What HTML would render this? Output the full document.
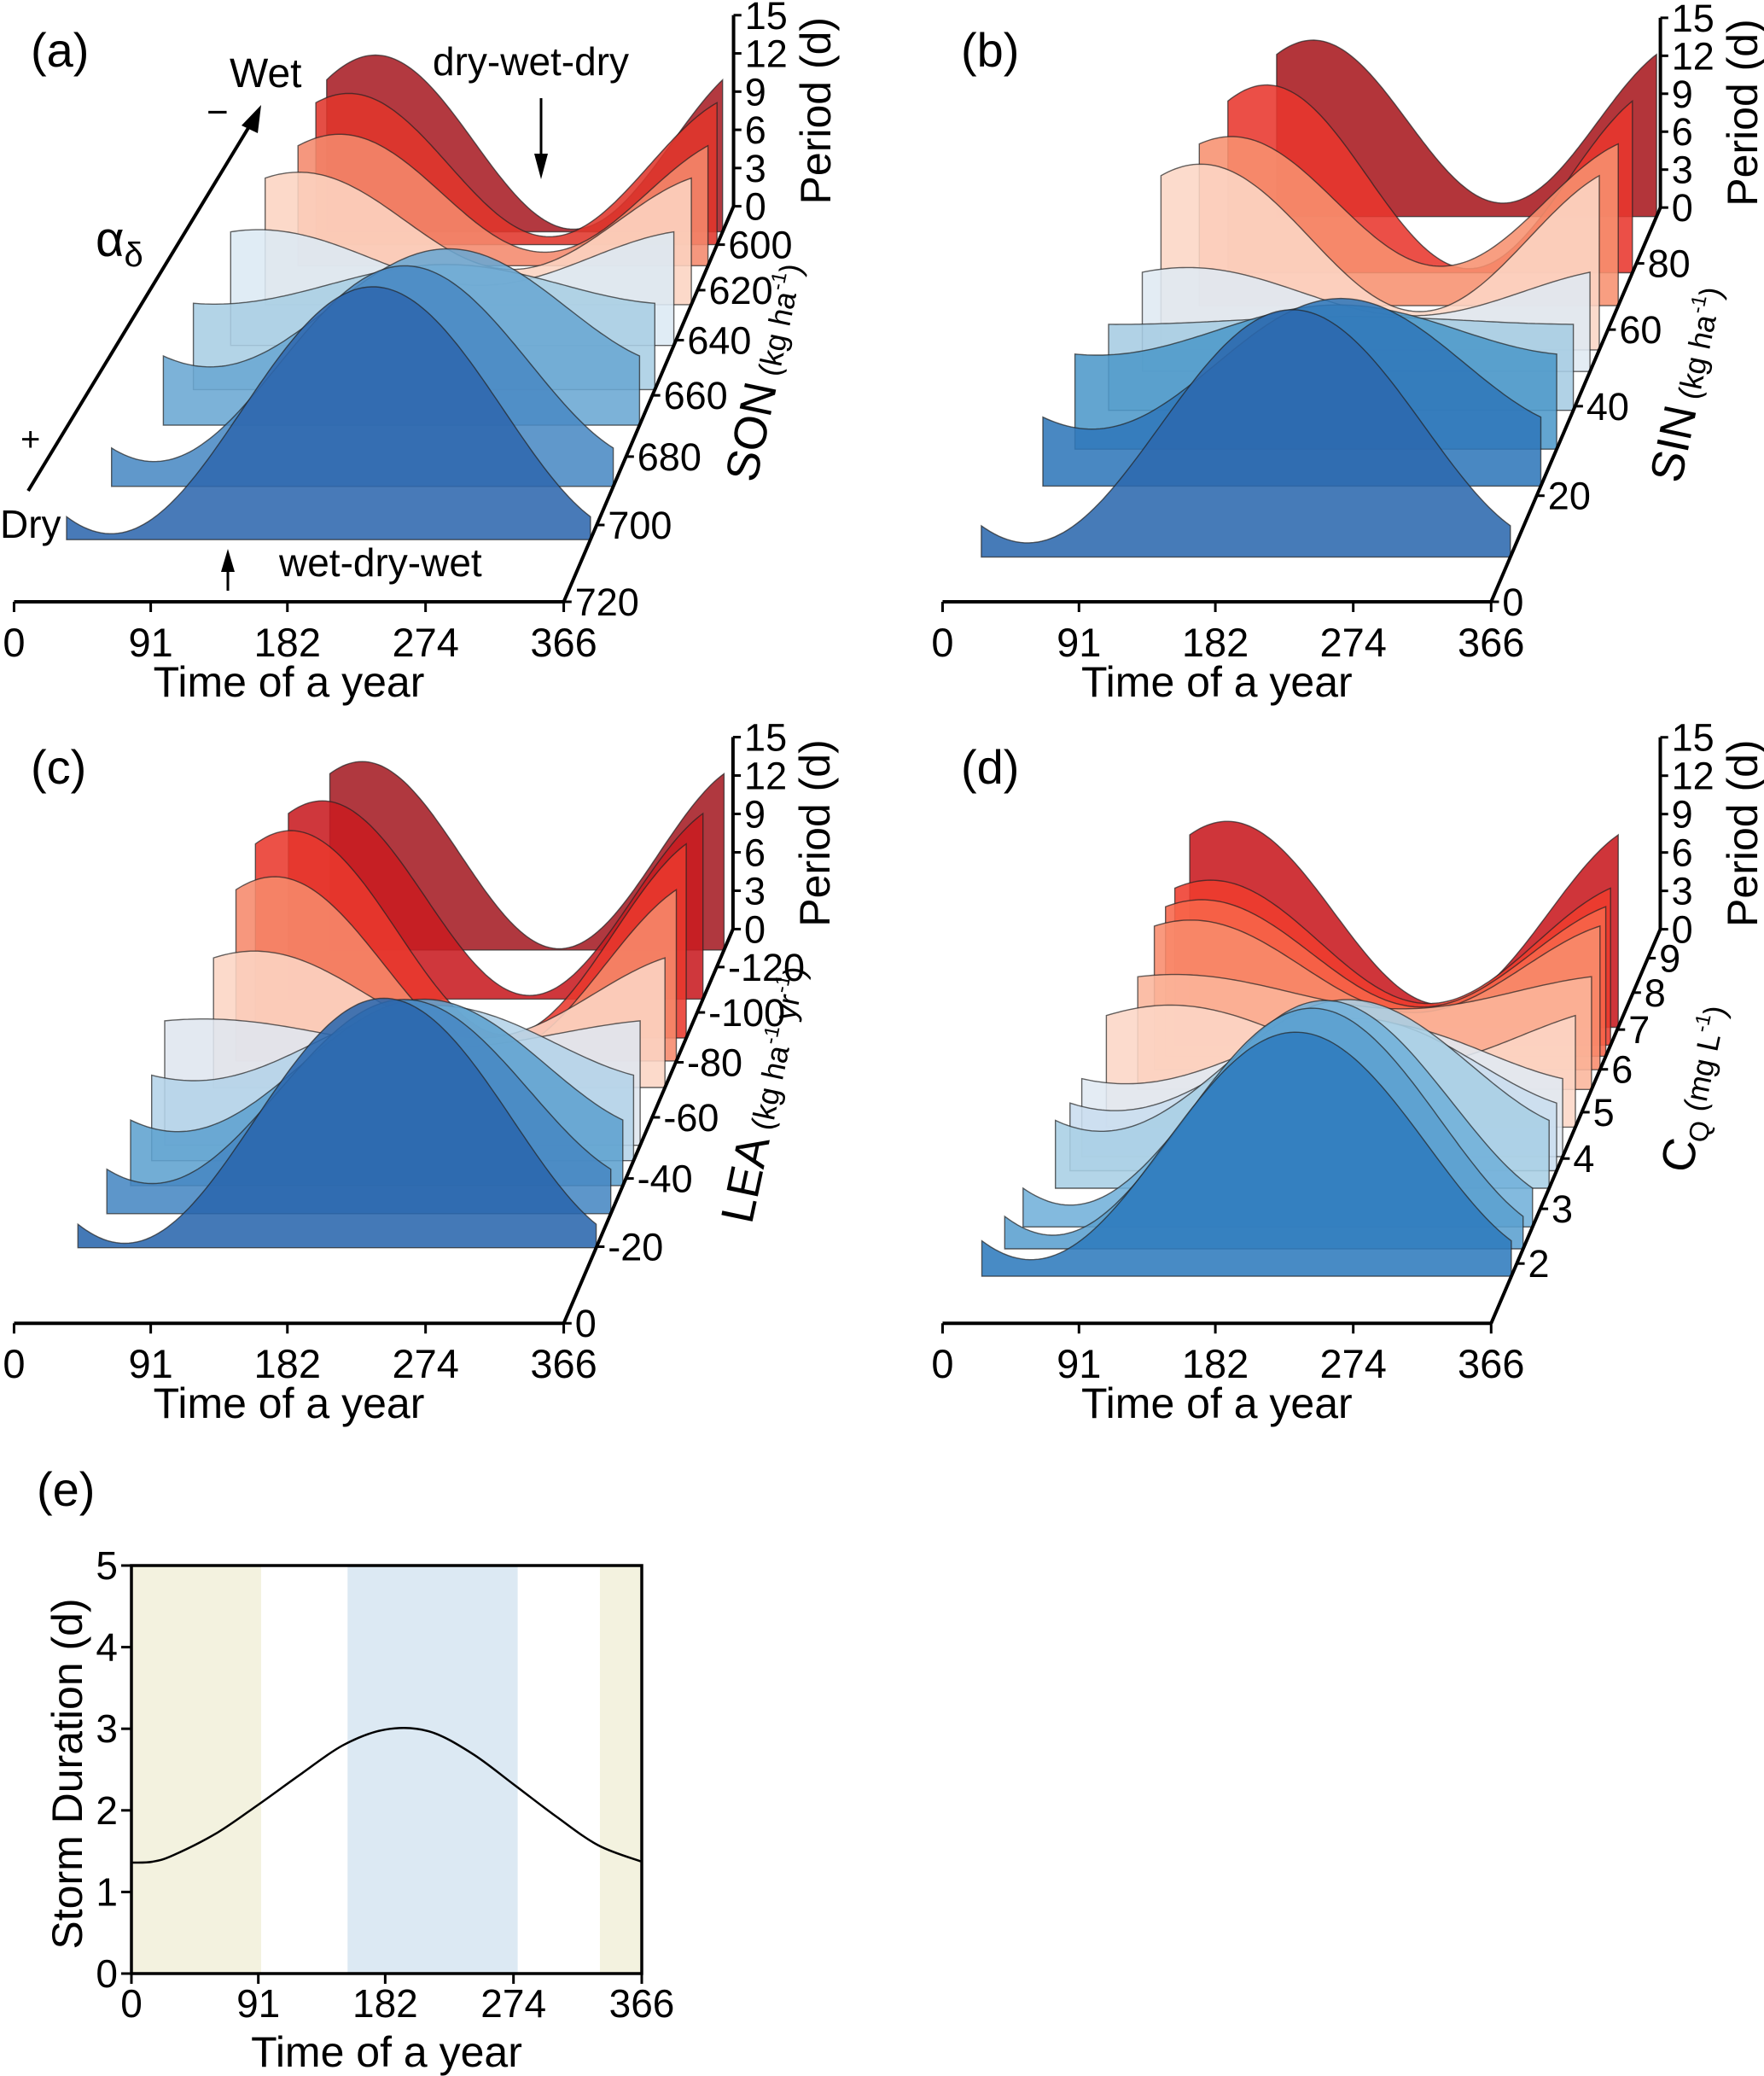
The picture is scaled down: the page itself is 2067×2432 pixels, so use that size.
<!DOCTYPE html>
<html><head><meta charset="utf-8">
<style>
html,body{margin:0;padding:0;background:#fff;}
svg{display:block;}
text{font-family:"Liberation Sans",Arial,sans-serif;fill:#000;}
</style></head>
<body>
<svg id="fig" xmlns="http://www.w3.org/2000/svg" width="2067" height="2432" viewBox="0 0 2067 2432">
  <rect x="0" y="0" width="2067" height="2432" fill="#fff"/>
  <g id="pa"></g>
  <g id="pb"></g>
  <g id="pc"></g>
  <g id="pd"></g>
  <g id="pe"></g>
  <g>
    <text x="36" y="78" font-size="56">(a)</text>
    <text x="269" y="102" font-size="48">Wet</text>
    <text x="242" y="146" font-size="44">−</text>
    <line x1="33" y1="575" x2="300" y2="135" stroke="#000" stroke-width="4"/>
    <polygon points="306,123 283,147 302,156" fill="#000"/>
    <text x="112" y="300" font-size="58" font-family="Liberation Serif, serif">α<tspan font-size="40" dy="12">δ</tspan></text>
    <text x="24" y="528" font-size="40" font-family="Liberation Serif, serif">+</text>
    <text x="0" y="630" font-size="46">Dry</text>
    <text x="507" y="88" font-size="46">dry-wet-dry</text>
    <line x1="634" y1="115" x2="634" y2="190" stroke="#000" stroke-width="3"/>
    <polygon points="634,210 626,180 642,180" fill="#000"/>
    <text x="327" y="675" font-size="46">wet-dry-wet</text>
    <line x1="267" y1="692" x2="267" y2="662" stroke="#000" stroke-width="3"/>
    <polygon points="267,643 259,670 275,670" fill="#000"/>
  </g>
  <text x="1126" y="78" font-size="56">(b)</text>
  <text x="36" y="918" font-size="56">(c)</text>
  <text x="1126" y="918" font-size="56">(d)</text>
  <text x="43" y="1764" font-size="56">(e)</text>
</svg>
<script>
// ---------- data: panel (a) SON ----------
const aDepth   = [704, 689, 670, 658, 642, 626, 609.5, 600, 594];
const aMax     = [14.6, 13.3, 11.2, 8.2, 7.9, 9.4, 9.7, 11.4, 13.5];
const aMin     = [0.34, 1.5, 3.7, 5.6, 4.1, 2.5, 1.0, 0.6, 0.2];
const aPeakDay = [214, 214, 219, 200, 23, 29, 37, 30, 45];
const aTicks   = [720, 700, 680, 660, 640, 620, 600];
// ---------- data: panel (b) SIN ----------
const bDepth   = [8, 22, 30, 39, 48.7, 54.4, 66.9, 77, 96];
const bMax     = [13.9, 11.2, 8.9, 6.0, 6.9, 12.6, 12, 13.8, 13.8];
const bMin     = [0.8, 3.4, 5.8, 5.5, 3.7, 2.6, 2.8, 0.3, 1.05];
const bPeakDay = [215, 219, 200, 190, 37, 33, 28, 35, 35];
const bTicks   = [0, 20, 40, 60, 80];
// ---------- data: panel (c) LEA ----------
const cDepth   = [-19.7, -29.4, -37.8, -45.6, -50.6, -70.6, -80.5, -89.5, -105.7, -128];
const cMax     = [14.5, 12.8, 11.4, 9.7, 8.0, 9.1, 12.6, 14.5, 14.4, 14.4];
const cMin     = [0.26, 1.8, 3.3, 5.0, 6.2, 3.3, 0.5, 0.2, 0.26, 0.1];
const cPeakDay = [216, 216, 218, 215, 30, 33, 32, 30, 30, 30];
const cTicks   = [0, -20, -40, -60, -80, -100, -120];
// ---------- data: panel (d) CQ ----------
const dDepth   = [1.78, 2.26, 2.66, 3.4, 3.75, 4.04, 4.67, 5.52, 5.99, 6.32, 6.6, 7.06];
const dMax     = [14, 14.1, 13.5, 11.6, 9.5, 8.5, 7.9, 7.7, 10.2, 10.8, 11.5, 14.6];
const dMin     = [0.95, 0.8, 1.3, 3.5, 3.75, 4.6, 4.0, 5.4, 3.9, 3.4, 2.9, 1.6];
const dPeakDay = [217, 217, 217, 217, 217, 217, 50, 30, 30, 30, 30, 32];
const dTicks   = [2, 3, 4, 5, 6, 7, 8, 9];
// ---------- shared axis labels ----------
const timeTicks   = [0, 91, 182, 274, 366];
const periodTicks = [0, 3, 6, 9, 12, 15];
// ---------- panel (e) ----------
const eDays     = [0, 15, 30, 61, 91, 122, 152, 182, 213, 244, 274, 305, 335, 366];
const eDuration = [1.36, 1.37, 1.45, 1.72, 2.07, 2.45, 2.8, 2.99, 2.97, 2.7, 2.32, 1.92, 1.57, 1.37];
const eYTicks   = [0, 1, 2, 3, 4, 5];
const eBandStart = [0, 155, 336];
const eBandEnd   = [93, 277, 366];
const eBandKind  = ['dry', 'wet', 'dry'];

const aColors = ['#2f68ae','#4a8ac4','#6aa7d3','#a9cee4','#dce9f4','#fcd4c2','#f4896c','#e0352b','#a81e25'];
const bColors = ['#2c69ae','#3078b9','#4d98ca','#a6cce3','#dfe9f3','#fcd6c5','#f7916f','#e8372d','#a8191f'];
const cColors = ['#2a66ad','#4788c3','#5ea2cf','#b4d3e8','#dfe6ef','#fcd5c4','#f6896b','#e9392e','#c81b21','#a51c24'];
const dColors = ['#2f7bbd','#5a9fcf','#72b1d9','#a9cfe5','#c9ddef','#e0e9f3','#fcd6c6','#fbb59b','#f88b6c','#f7654a','#ef3c2e','#c8191f'];

const NS = 'http://www.w3.org/2000/svg';
function mk(tag, attrs, parent){
  const el = document.createElementNS(NS, tag);
  for (const k in attrs) el.setAttribute(k, attrs[k]);
  parent.appendChild(el);
  return el;
}
const KX = 0.6586, KY = 0.523;

function drawPanel(g, P){
  const X = z => P.ox + z*KX, Y = z => P.oy + z*KY;
  const W = P.xe - P.xs;
  const fOf = u => u*1.37/(1+0.37*u);
  const uOf = v => (v - P.vFront)/(P.vBack - P.vFront);
  const depthY = v => P.ya - P.L*fOf(uOf(v));
  const depthX = y => P.xe + (P.ya - y)*0.341;
  const sOf = v => 1/(1+0.37*uOf(v));
  const uTop = P.fTop/(1.37-0.37*P.fTop);
  const sTop = 1/(1+0.37*uTop);
  const H = P.pPx/15/sTop;
  const yTop = P.ya - P.L*P.fTop;
  const xTop = depthX(yTop);

  for (let i = P.depth.length-1; i >= 0; i--){
    const base = depthY(P.depth[i]);
    const s = sOf(P.depth[i]);
    const xr = depthX(base);
    const xl = xr - W*s;
    const pts = [[X(xl), Y(base)]];
    for (let d = 0; d <= 366; d += 3){
      const val = P.min[i] + (P.max[i]-P.min[i])*(1+Math.cos(2*Math.PI*(d-P.peak[i])/366))/2;
      pts.push([X(xl + d/366*W*s), Y(base - val*H*s)]);
    }
    pts.push([X(xr), Y(base)]);
    const poly = mk('polygon', {points: pts.map(p=>p[0].toFixed(1)+','+p[1].toFixed(1)).join(' '),
      fill: P.colors[i], 'fill-opacity': 0.88, stroke: '#222', 'stroke-opacity': 0.7, 'stroke-width': 1.4}, g);
    
    
  }

  const ax = mk('line', {x1: X(P.xs), y1: Y(P.ya), x2: X(P.xe), y2: Y(P.ya), stroke: '#000', 'stroke-width': 4}, g);
  
  
  timeTicks.forEach(t => {
    const tx = X(P.xs + t/366*W);
    const tk = mk('line', {x1: tx, y1: Y(P.ya), x2: tx, y2: Y(P.ya)+12, stroke: '#000', 'stroke-width': 3}, g);
    
    
    const tl = mk('text', {x: tx, y: Y(P.ya+122), 'font-size': 47, 'text-anchor': 'middle'}, g);
    tl.textContent = t;
    
    
  });
  const xt = mk('text', {x: X(P.xs + W/2), y: Y(P.ya+212), 'font-size': 50, 'text-anchor': 'middle'}, g);
  xt.textContent = 'Time of a year';
  
  

  const da = mk('line', {x1: X(P.xe), y1: Y(P.ya), x2: X(xTop), y2: Y(yTop), stroke: '#000', 'stroke-width': 4}, g);
  
  
  P.ticks.forEach(v => {
    const ty = depthY(v), tx = depthX(ty);
    const tk = mk('line', {x1: X(tx), y1: Y(ty), x2: X(tx+14), y2: Y(ty), stroke: '#000', 'stroke-width': 3}, g);
    
    
    const tl = mk('text', {x: X(tx+20), y: Y(ty)+16, 'font-size': 45}, g);
    tl.textContent = v;
    
    
  });
  const my = P.ya - P.L*0.635;
  const lx = X(depthX(my) + 210), ly = Y(my);
  const dl = mk('text', {x: 0, y: 0, 'font-size': 54, 'text-anchor': 'middle', transform: `translate(${lx.toFixed(1)},${ly.toFixed(1)}) rotate(-78)`}, g);
  dl.innerHTML = P.label;
  
  

  const pa = mk('line', {x1: X(xTop), y1: Y(yTop), x2: X(xTop), y2: Y(yTop - P.pPx), stroke: '#000', 'stroke-width': 4}, g);
  
  
  periodTicks.forEach(p => {
    const ty = yTop - p/15*P.pPx;
    const tk = mk('line', {x1: X(xTop), y1: Y(ty), x2: X(xTop+14), y2: Y(ty), stroke: '#000', 'stroke-width': 3}, g);
    
    
    const tl = mk('text', {x: X(xTop+20), y: Y(ty)+16, 'font-size': 45}, g);
    tl.textContent = p;
    
    
  });
  const px = X(xTop+172), py = Y(yTop - P.pPx/2);
  const pt = mk('text', {x: 0, y: 0, 'font-size': 50, 'text-anchor': 'middle', transform: `translate(${px.toFixed(1)},${py.toFixed(1)}) rotate(-90)`}, g);
  pt.textContent = 'Period (d)';
  
  
}

const small = 'font-size="36"';
drawPanel(document.getElementById('pa'), {ox:0, oy:0, xs:25, xe:1003, ya:1348, L:800, fTop:1.1075, pPx:428,
  vFront:720, vBack:600, depth:aDepth, max:aMax, min:aMin, peak:aPeakDay, colors:aColors, ticks:aTicks,
  label:`SON<tspan ${small}> (kg ha</tspan><tspan font-size="24" dy="-16">-1</tspan><tspan ${small} dy="16">)</tspan>`});
drawPanel(document.getElementById('pb'), {ox:1034, oy:0, xs:107, xe:1083, ya:1348, L:758, fTop:1.165, pPx:425,
  vFront:0, vBack:80, depth:bDepth, max:bMax, min:bMin, peak:bPeakDay, colors:bColors, ticks:bTicks,
  label:`SIN<tspan ${small}> (kg ha</tspan><tspan font-size="24" dy="-16">-1</tspan><tspan ${small} dy="16">)</tspan>`});
drawPanel(document.getElementById('pc'), {ox:0, oy:840, xs:25, xe:1003, ya:1358, L:798, fTop:1.1065, pPx:430,
  vFront:0, vBack:-120, depth:cDepth, max:cMax, min:cMin, peak:cPeakDay, colors:cColors, ticks:cTicks,
  label:`LEA<tspan ${small}> (kg ha</tspan><tspan font-size="24" dy="-16">-1</tspan><tspan ${small} dy="16"> yr</tspan><tspan font-size="24" dy="-16">-1</tspan><tspan ${small} dy="16">)</tspan>`});
drawPanel(document.getElementById('pd'), {ox:1034, oy:840, xs:107, xe:1083, ya:1358, L:818, fTop:1.079, pPx:430,
  vFront:1, vBack:9, depth:dDepth, max:dMax, min:dMin, peak:dPeakDay, colors:dColors, ticks:dTicks,
  label:`C<tspan font-size="32" dy="10">Q</tspan><tspan ${small} dy="-10"> (mg L</tspan><tspan font-size="24" dy="-16">-1</tspan><tspan ${small} dy="16">)</tspan>`});

(function(){
  const g = document.getElementById('pe');
  const x0 = 154, x1 = 752, y0 = 2312, y1 = 1834;
  const ex = d => x0 + d/366*(x1-x0);
  const ey = v => y0 - v/5*(y0-y1);
  eBandStart.forEach((s,i) => {
    const r = mk('rect', {x: ex(s), y: y1, width: ex(eBandEnd[i])-ex(s), height: y0-y1,
      fill: eBandKind[i]==='dry' ? '#f3f2df' : '#dce9f3'}, g);
    
    
  });
  const pts = eDays.map((d,i) => [ex(d), ey(eDuration[i])]);
  let dstr = `M${pts[0][0]},${pts[0][1]}`;
  for (let i = 0; i < pts.length-1; i++){
    const p0 = pts[Math.max(0,i-1)], p1 = pts[i], p2 = pts[i+1], p3 = pts[Math.min(pts.length-1,i+2)];
    const c1 = [p1[0]+(p2[0]-p0[0])/6, p1[1]+(p2[1]-p0[1])/6];
    const c2 = [p2[0]-(p3[0]-p1[0])/6, p2[1]-(p3[1]-p1[1])/6];
    dstr += ` C${c1[0].toFixed(1)},${c1[1].toFixed(1)} ${c2[0].toFixed(1)},${c2[1].toFixed(1)} ${p2[0].toFixed(1)},${p2[1].toFixed(1)}`;
  }
  const line = mk('path', {d: dstr, fill: 'none', stroke: '#000', 'stroke-width': 2.5}, g);
  
  
  const frame = mk('rect', {x: x0, y: y1, width: x1-x0, height: y0-y1, fill: 'none', stroke: '#000', 'stroke-width': 3.5}, g);
  
  
  timeTicks.forEach(t => {
    const tk = mk('line', {x1: ex(t), y1: y0, x2: ex(t), y2: y0+12, stroke: '#000', 'stroke-width': 3}, g);
    
    
    const tl = mk('text', {x: ex(t), y: 2363, 'font-size': 46, 'text-anchor': 'middle'}, g);
    tl.textContent = t;
    
    
  });
  eYTicks.forEach(v => {
    const tk = mk('line', {x1: x0-12, y1: ey(v), x2: x0, y2: ey(v), stroke: '#000', 'stroke-width': 3}, g);
    
    
    const tl = mk('text', {x: x0-16, y: ey(v)+16, 'font-size': 46, 'text-anchor': 'end'}, g);
    tl.textContent = v;
    
    
  });
  const xt = mk('text', {x: 453, y: 2421, 'font-size': 50, 'text-anchor': 'middle'}, g);
  xt.textContent = 'Time of a year';
  
  
  const yt = mk('text', {x: 0, y: 0, 'font-size': 50, 'text-anchor': 'middle', transform: 'translate(96,2078) rotate(-90)'}, g);
  yt.textContent = 'Storm Duration (d)';
  
  
})();
</script>
</body></html>
